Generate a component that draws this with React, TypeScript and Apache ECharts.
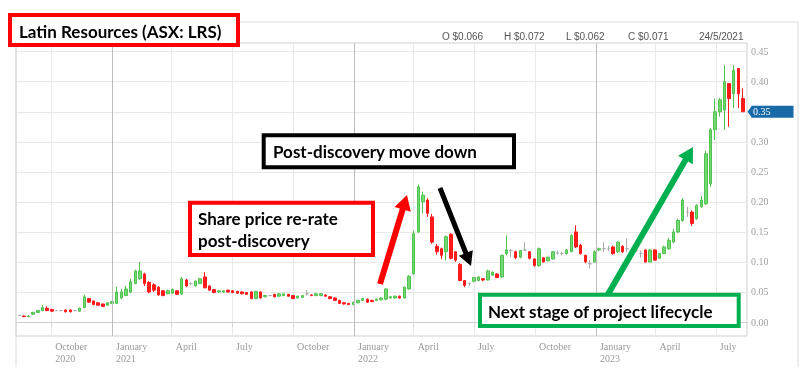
import React, { useEffect, useRef } from "react";
import * as echarts from "echarts";

// first weekly candle: Friday 14 Aug 2020, one candle per week
const firstCandleDate = [2020, 7, 14];
const axisStart = [2020, 7, 9];
const axisEnd = [2023, 7, 17];

// [open, close, low, high]
const candlesPreDiscovery: number[][] = [
  [0.011, 0.011, 0.010, 0.012], [0.010, 0.009, 0.008, 0.011], [0.009, 0.010, 0.008, 0.011],
  [0.013, 0.016, 0.012, 0.017], [0.016, 0.019, 0.015, 0.020], [0.019, 0.024, 0.018, 0.028],
  [0.023, 0.019, 0.018, 0.026], [0.021, 0.018, 0.017, 0.022], [0.019, 0.019, 0.018, 0.020],
  [0.019, 0.019, 0.018, 0.020], [0.020, 0.017, 0.016, 0.021], [0.020, 0.017, 0.016, 0.021],
  [0.019, 0.019, 0.018, 0.020], [0.018, 0.023, 0.017, 0.024], [0.024, 0.042, 0.023, 0.045],
  [0.039, 0.033, 0.032, 0.040], [0.035, 0.029, 0.028, 0.036], [0.032, 0.028, 0.027, 0.033],
  [0.030, 0.026, 0.025, 0.031], [0.028, 0.032, 0.027, 0.033], [0.031, 0.034, 0.030, 0.035],
  [0.031, 0.050, 0.030, 0.059], [0.040, 0.050, 0.038, 0.055], [0.044, 0.055, 0.043, 0.060],
  [0.050, 0.067, 0.048, 0.072], [0.064, 0.085, 0.063, 0.087], [0.072, 0.085, 0.070, 0.100],
  [0.080, 0.064, 0.060, 0.082], [0.066, 0.050, 0.048, 0.068], [0.062, 0.053, 0.050, 0.064],
  [0.058, 0.045, 0.044, 0.060], [0.052, 0.044, 0.043, 0.053], [0.047, 0.052, 0.046, 0.054],
  [0.048, 0.054, 0.047, 0.056], [0.052, 0.046, 0.045, 0.053], [0.047, 0.072, 0.045, 0.075],
  [0.070, 0.060, 0.058, 0.072], [0.064, 0.064, 0.062, 0.066], [0.060, 0.068, 0.059, 0.069],
  [0.064, 0.072, 0.063, 0.073], [0.075, 0.057, 0.056, 0.083], [0.060, 0.053, 0.052, 0.061],
  [0.054, 0.049, 0.048, 0.055], [0.050, 0.052, 0.049, 0.053], [0.050, 0.052, 0.049, 0.053],
  [0.053, 0.050, 0.049, 0.054], [0.052, 0.049, 0.048, 0.053], [0.051, 0.048, 0.047, 0.052],
  [0.050, 0.047, 0.046, 0.051], [0.049, 0.046, 0.045, 0.050], [0.050, 0.039, 0.038, 0.051],
  [0.039, 0.051, 0.038, 0.052], [0.050, 0.040, 0.039, 0.051], [0.042, 0.044, 0.041, 0.045],
  [0.044, 0.044, 0.043, 0.045], [0.046, 0.042, 0.041, 0.047], [0.043, 0.047, 0.042, 0.048],
  [0.044, 0.047, 0.043, 0.048], [0.046, 0.043, 0.042, 0.047], [0.044, 0.039, 0.038, 0.045],
  [0.040, 0.043, 0.039, 0.044], [0.041, 0.044, 0.040, 0.045], [0.047, 0.047, 0.044, 0.053],
  [0.045, 0.044, 0.043, 0.046], [0.044, 0.047, 0.043, 0.048], [0.044, 0.047, 0.043, 0.048],
  [0.045, 0.043, 0.042, 0.046], [0.042, 0.039, 0.038, 0.043], [0.040, 0.036, 0.035, 0.041],
  [0.036, 0.031, 0.030, 0.037], [0.032, 0.030, 0.029, 0.033], [0.031, 0.029, 0.028, 0.032],
  [0.029, 0.033, 0.028, 0.034], [0.032, 0.036, 0.031, 0.037], [0.036, 0.039, 0.035, 0.040],
  [0.038, 0.033, 0.032, 0.039],
];

const candlesDiscovery: number[][] = [
  [0.036, 0.034, 0.033, 0.037], [0.036, 0.038, 0.035, 0.039], [0.037, 0.040, 0.036, 0.041],
  [0.038, 0.055, 0.036, 0.056], [0.040, 0.042, 0.039, 0.043], [0.040, 0.043, 0.039, 0.044],
  [0.043, 0.040, 0.039, 0.044], [0.040, 0.058, 0.039, 0.059], [0.055, 0.076, 0.054, 0.078],
  [0.080, 0.147, 0.079, 0.152], [0.150, 0.225, 0.148, 0.229], [0.200, 0.211, 0.181, 0.217],
  [0.203, 0.181, 0.175, 0.206], [0.175, 0.133, 0.130, 0.180], [0.126, 0.117, 0.112, 0.130],
  [0.122, 0.111, 0.105, 0.124], [0.117, 0.142, 0.103, 0.144], [0.146, 0.106, 0.104, 0.148],
  [0.117, 0.103, 0.100, 0.118], [0.096, 0.069, 0.068, 0.098], [0.069, 0.061, 0.058, 0.070],
  [0.064, 0.064, 0.060, 0.066], [0.068, 0.074, 0.066, 0.075], [0.069, 0.075, 0.068, 0.076],
  [0.072, 0.070, 0.068, 0.073], [0.070, 0.085, 0.069, 0.087], [0.078, 0.083, 0.077, 0.084],
  [0.080, 0.074, 0.073, 0.081], [0.075, 0.111, 0.074, 0.112], [0.114, 0.120, 0.111, 0.144],
  [0.119, 0.119, 0.108, 0.122], [0.117, 0.107, 0.105, 0.119], [0.108, 0.119, 0.106, 0.120],
  [0.120, 0.120, 0.118, 0.133], [0.117, 0.106, 0.104, 0.118], [0.105, 0.094, 0.092, 0.106],
  [0.094, 0.122, 0.092, 0.124], [0.107, 0.100, 0.099, 0.108], [0.102, 0.108, 0.101, 0.109],
  [0.105, 0.117, 0.104, 0.118], [0.115, 0.115, 0.112, 0.119], [0.114, 0.114, 0.111, 0.117],
  [0.114, 0.120, 0.112, 0.121], [0.117, 0.144, 0.116, 0.146], [0.150, 0.125, 0.123, 0.161],
  [0.128, 0.114, 0.112, 0.130], [0.111, 0.100, 0.098, 0.112], [0.097, 0.097, 0.089, 0.103],
  [0.100, 0.117, 0.099, 0.119], [0.120, 0.122, 0.118, 0.124], [0.122, 0.122, 0.117, 0.133],
  [0.122, 0.122, 0.118, 0.127], [0.125, 0.114, 0.112, 0.127], [0.117, 0.133, 0.115, 0.134],
  [0.126, 0.117, 0.115, 0.128], [0.122, 0.122, 0.117, 0.139], [0.120, 0.114, 0.112, 0.121],
  [0.119, 0.119, 0.117, 0.122], [0.114, 0.114, 0.107, 0.119], [0.120, 0.100, 0.099, 0.121],
  [0.100, 0.120, 0.099, 0.121], [0.120, 0.103, 0.102, 0.121], [0.106, 0.114, 0.105, 0.115],
  [0.114, 0.125, 0.113, 0.127], [0.122, 0.136, 0.120, 0.140], [0.133, 0.150, 0.131, 0.155],
  [0.150, 0.169, 0.148, 0.172], [0.169, 0.203, 0.167, 0.206], [0.183, 0.183, 0.175, 0.192],
  [0.183, 0.164, 0.160, 0.186], [0.172, 0.194, 0.170, 0.196], [0.192, 0.203, 0.190, 0.210],
];

const candlesRecent: number[][] = [
  [0.197, 0.280, 0.195, 0.285], [0.230, 0.320, 0.225, 0.323], [0.320, 0.350, 0.303, 0.372],
  [0.350, 0.370, 0.342, 0.373], [0.353, 0.400, 0.320, 0.428], [0.397, 0.372, 0.325, 0.397],
  [0.380, 0.419, 0.356, 0.428], [0.422, 0.380, 0.356, 0.422], [0.372, 0.350, 0.350, 0.389],
];

const quarterStarts = [
  [2020, 9], [2021, 0], [2021, 3], [2021, 6], [2021, 9], [2022, 0],
  [2022, 3], [2022, 6], [2022, 9], [2023, 0], [2023, 3], [2023, 6],
];
const monthNames = ["January", "February", "March", "April", "May", "June", "July",
  "August", "September", "October", "November", "December"];
const yTicks = [0, 0.05, 0.1, 0.15, 0.2, 0.25, 0.3, 0.35, 0.4, 0.45];
const headerItems = ["O $0.066", "H $0.072", "L $0.062", "C $0.071", "24/5/2021"];
const headerX = [442, 504, 566, 628, 699];
const lastPrice = 0.35;

const titleText = "Latin Resources (ASX: LRS)";
const noteRerate = ["Share price re-rate", "post-discovery"];
const noteDown = "Post-discovery move down";
const noteNext = "Next stage of project lifecycle";

const RED = "#ff0000";
const GREEN = "#00b050";
const PRICE_BLUE = "#1769a8";
const ANN_FONT = "bold 17px Lato";

function arrow(tail: number[], tip: number[], w: number, hw: number, hl: number, color: string) {
  const dx = tip[0] - tail[0], dy = tip[1] - tail[1];
  const len = Math.hypot(dx, dy);
  const ux = dx / len, uy = dy / len;
  const nx = -uy, ny = ux;
  const bx = tip[0] - ux * hl, by = tip[1] - uy * hl;
  const pts = [
    [tail[0] + nx * w / 2, tail[1] + ny * w / 2],
    [bx + nx * w / 2, by + ny * w / 2],
    [bx + nx * hw / 2, by + ny * hw / 2],
    [tip[0], tip[1]],
    [bx - nx * hw / 2, by - ny * hw / 2],
    [bx - nx * w / 2, by - ny * w / 2],
    [tail[0] - nx * w / 2, tail[1] - ny * w / 2],
  ];
  return { type: "polygon", z: 100, shape: { points: pts }, style: { fill: color } };
}

function box(x: number, y: number, w: number, h: number, color: string, lines: string[], tx: number, tys: number[]) {
  return [
    { type: "rect", z: 101, shape: { x, y, width: w, height: h }, style: { fill: "#fff", stroke: color, lineWidth: 4 } },
    ...lines.map((t, i) => ({
      type: "text", z: 102, x: tx, y: tys[i],
      style: { text: t, fill: "#000", font: ANN_FONT, textVerticalAlign: "middle" },
    })),
  ];
}

export default function App() {
  const ref = useRef<HTMLDivElement>(null);
  useEffect(() => {
    if (!ref.current) return;
    const chart = echarts.init(ref.current, undefined, { renderer: "svg" });
    const all = [...candlesPreDiscovery, ...candlesDiscovery, ...candlesRecent];
    const data = all.map((c, i) => [
      new Date(firstCandleDate[0], firstCandleDate[1], firstCandleDate[2] + 7 * i).getTime(),
      c[0], c[1], c[2], c[3],
    ]);
    const qTicks = quarterStarts.map((q) => new Date(q[0], q[1], 1).getTime());
    const janTicks = quarterStarts.filter((q) => q[1] === 0).map((q) => new Date(q[0], q[1], 1).getTime());
    // the last-price flag covers its own axis label
    const yLabelValues = yTicks.filter((v) => Math.abs(v - lastPrice) > 1e-9);

    chart.setOption({
      animation: false,
      grid: { left: 16, right: 53, top: 43, bottom: 41, show: true, borderColor: "#cfcfcf", borderWidth: 1 },
      xAxis: {
        type: "value",
        min: new Date(axisStart[0], axisStart[1], axisStart[2]).getTime(),
        max: new Date(axisEnd[0], axisEnd[1], axisEnd[2]).getTime(),
        axisLine: { show: true, lineStyle: { color: "#cfcfcf" } },
        axisTick: { show: true, customValues: qTicks, length: 5, lineStyle: { color: "#d5d5d5" } },
        axisLabel: {
          customValues: qTicks,
          hideOverlap: false,
          formatter: (v: number) => {
            const d = new Date(v);
            const m = monthNames[d.getMonth()];
            return d.getMonth() === 0 || d.getFullYear() === 2020 ? `${m}\n${d.getFullYear()}` : m;
          },
          align: "left",
          verticalAlign: "top",
          padding: [0, 0, 0, 4],
          margin: 4,
          color: "#9a9a9a",
          fontFamily: "Liberation Serif",
          fontSize: 10,
          lineHeight: 12,
        },
        splitLine: { show: true, lineStyle: { color: "#e8e8e8" } },
      },
      yAxis: {
        type: "value",
        position: "right",
        min: -0.0233,
        max: 0.4645,
        axisLine: { show: false },
        axisTick: { show: false, customValues: yTicks },
        axisLabel: {
          customValues: yLabelValues,
          formatter: (v: number) => v.toFixed(2),
          color: "#a0a0a0",
          fontFamily: "Liberation Serif",
          fontSize: 10,
          margin: 4,
        },
        splitLine: { show: true, lineStyle: { color: "#e8e8e8" } },
      },
      series: [
        {
          type: "candlestick",
          data,
          encode: { x: 0, y: [1, 2, 3, 4] },
          barWidth: 3,
          itemStyle: {
            color: "#72d872",
            color0: "#ff1a1a",
            borderColor: "#4fc24f",
            borderColor0: "#ff1a1a",
            borderColorDoji: "#aaaaaa",
            borderWidth: 1,
          },
          markLine: {
            silent: true,
            symbol: ["none", "none"],
            label: { show: false },
            data: janTicks.map((t) => ({
              xAxis: t,
              lineStyle: { color: "#bdbdbd", width: 1, type: "solid" },
            })),
          },
        },
      ],
    });

    const py = chart.convertToPixel({ yAxisIndex: 0 }, lastPrice) as number;
    const gridRight = 800 - 53;

    chart.setOption({
      graphic: [
        { type: "polyline", z: 1, shape: { points: [[16, 367], [16, 22], [798, 22], [798, 367]] }, style: { stroke: "#dcdcdc", lineWidth: 1, fill: null } },
        ...headerItems.map((t, i) => ({
          type: "text", z: 50, x: headerX[i], y: 36,
          style: { text: t, fill: "#555", font: "10px 'Liberation Sans'", textVerticalAlign: "middle" },
        })),
        { type: "polygon", z: 60, shape: { points: [[gridRight + 0.5, py], [gridRight + 5, py - 6], [gridRight + 5, py + 6]] }, style: { fill: PRICE_BLUE } },
        { type: "rect", z: 60, shape: { x: gridRight + 4.5, y: py - 6, width: 42, height: 12 }, style: { fill: PRICE_BLUE } },
        { type: "text", z: 61, x: gridRight + 6, y: py, style: { text: lastPrice.toFixed(2), fill: "#fff", font: "10px 'Liberation Serif'", textVerticalAlign: "middle" } },
        arrow([380, 284], [407, 195], 6, 17, 15, RED),
        arrow([440, 188], [471, 266], 5, 15, 14, "#000"),
        arrow([607, 296], [693, 147], 6, 17, 15, GREEN),
        ...box(10, 15, 228, 30, RED, [titleText], 19, [31.5]),
        ...box(190, 202.7, 183, 52.3, RED, noteRerate, 198, [218.5, 240]),
        ...box(263.7, 135.3, 250.3, 32, "#000", [noteDown], 273, [151.5]),
        ...box(480, 294.7, 258.7, 31.3, GREEN, [noteNext], 488, [311.5]),
      ],
    });

    return () => chart.dispose();
  }, []);
  return <div ref={ref} style={{ position: "fixed", left: 0, top: 0, width: 800, height: 377 }} />;
}
